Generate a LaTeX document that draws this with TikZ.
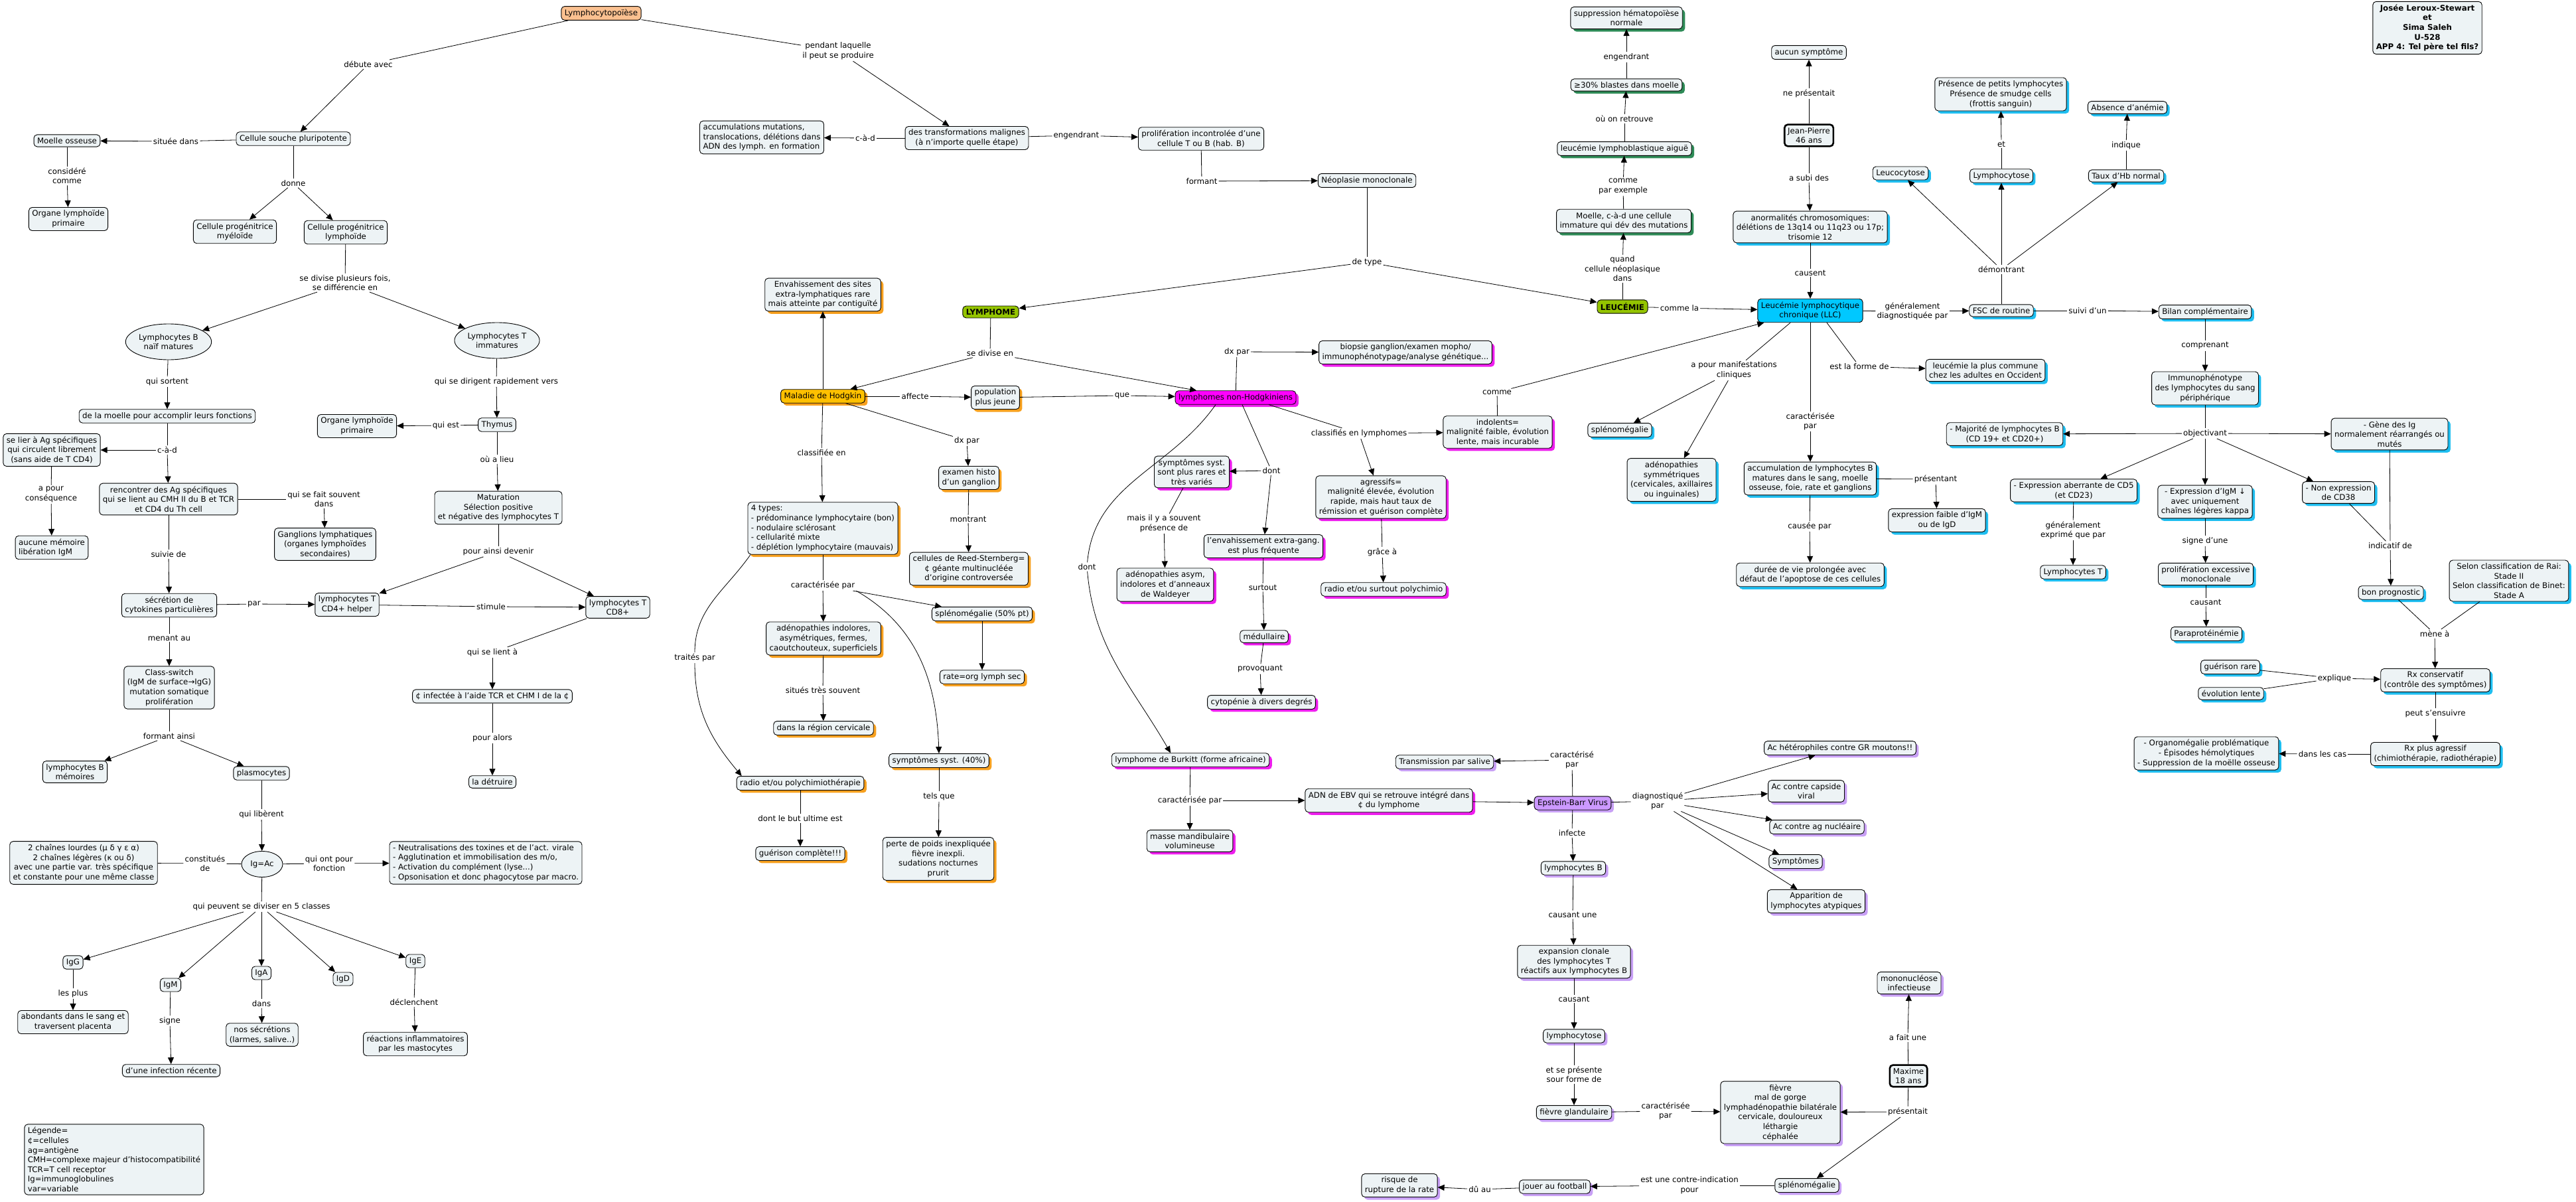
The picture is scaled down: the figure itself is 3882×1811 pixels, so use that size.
\documentclass[tikz,border=0pt]{standalone}
\usepackage{fontspec}
\setmainfont{DejaVu Sans}
\usetikzlibrary{shapes,arrows.meta,positioning,shadows}

\definecolor{conceptfill}{RGB}{237,243,245}
\definecolor{startfill}{RGB}{250,192,144}
\definecolor{typefill}{RGB}{148,196,0}
\definecolor{hodgfill}{RGB}{255,192,0}
\definecolor{nhlfill}{RGB}{255,0,255}
\definecolor{llcfill}{RGB}{0,200,255}
\definecolor{ebvfill}{RGB}{204,153,255}
\definecolor{hodgshadow}{RGB}{247,160,30}
\definecolor{nhlshadow}{RGB}{238,30,238}
\definecolor{llcshadow}{RGB}{30,190,240}
\definecolor{llashadow}{RGB}{46,139,87}
\definecolor{ebvshadow}{RGB}{200,160,245}

\begin{document}
\begin{tikzpicture}[
    x=1pt, y=-1pt,
    every node/.style={font=\fontsize{11.8}{14.6}\selectfont},
    concept/.style={rectangle, draw, rounded corners=5pt, fill=conceptfill,
                    align=center, inner xsep=5pt, inner ysep=4.5pt, line width=0.9pt},
    bubble/.style={ellipse, draw, fill=conceptfill, align=center,
                   inner sep=1pt, line width=0.9pt},
    linkword/.style={align=center, inner sep=2pt, fill=white},
    hodg/.style={concept, drop shadow={shadow xshift=4pt, shadow yshift=-4pt, fill=hodgshadow, opacity=1}},
    nhl/.style={concept, drop shadow={shadow xshift=4pt, shadow yshift=-4pt, fill=nhlshadow, opacity=1}},
    llc/.style={concept, drop shadow={shadow xshift=4pt, shadow yshift=-4pt, fill=llcshadow, opacity=1}},
    lla/.style={concept, drop shadow={shadow xshift=4pt, shadow yshift=-4pt, fill=llashadow, opacity=1}},
    ebv/.style={concept, drop shadow={shadow xshift=4pt, shadow yshift=-4pt, fill=ebvshadow, opacity=1}},
    patient/.style={concept, line width=2.6pt},
    conn/.style={line width=0.8pt},
    arrow/.style={-{Triangle[length=10pt,width=9pt]}, line width=0.8pt}
]
\path[use as bounding box, fill=white] (0,0) rectangle (3882,1811);

% Lymphocytopoiese
\node[concept, fill=startfill] (lcp) at (906,20) {Lymphocytopoïèse};
\node[linkword] (ldebute) at (555,97) {débute avec};
\node[concept] (csp) at (442,209) {Cellule souche pluripotente};
\node[linkword] (lsituee) at (265,213) {située dans};
\node[concept] (moelle) at (101,212) {Moelle osseuse};
\node[linkword] (lconsid) at (101,265) {considéré\\comme};
\node[concept] (olpa) at (103,330) {Organe lymphoïde\\primaire};
\node[linkword] (ldonne) at (442,276) {donne};
\node[concept] (myelo) at (354,349) {Cellule progénitrice\\myéloïde};
\node[concept] (lympho) at (521,350) {Cellule progénitrice\\lymphoïde};
\node[linkword] (ldivise) at (520,426) {se divise plusieurs fois,\\se différencie en};
\node[bubble, minimum width=110pt, minimum height=54pt] (lbn) at (254,515) {Lymphocytes B\\naïf matures};
\node[bubble, minimum width=110pt, minimum height=54pt] (lti) at (749,513) {Lymphocytes T\\immatures};

% Lymphocytes B
\node[linkword] (lsortent) at (252,575) {qui sortent};
\node[concept] (moelf) at (252,627) {de la moelle pour accomplir leurs fonctions};
\node[linkword] (lcada) at (252,678) {c-à-d};
\node[concept] (lier) at (78,678) {se lier à Ag spécifiques\\qui circulent librement\\(sans aide de T CD4)};
\node[linkword] (lapour) at (77,745) {a pour\\conséquence};
\node[concept, align=left] (aucune) at (78,825) {aucune mémoire\\libération IgM};
\node[concept] (renc) at (254,752) {rencontrer des Ag spécifiques\\qui se lient au CMH II du B et TCR\\et CD4 du Th cell};
\node[linkword] (lfait) at (488,752) {qui se fait souvent\\dans};
\node[concept] (gangl) at (490,820) {Ganglions lymphatiques\\(organes lymphoïdes\\secondaires)};
\node[linkword] (lsuivie) at (254,835) {suivie de};
\node[concept] (secr) at (255,912) {sécrétion de\\cytokines particulières};
\node[linkword] (lpar) at (383,910) {par};
\node[concept] (cdq) at (523,911) {lymphocytes T\\CD4+ helper};
\node[linkword] (lstimule) at (740,914) {stimule};
\node[concept] (cdh) at (931,915) {lymphocytes T\\CD8+};
\node[linkword] (lmenant) at (255,961) {menant au};
\node[concept] (cswitch) at (255,1036) {Class-switch\\(IgM de surface→IgG)\\mutation somatique\\prolifération};
\node[linkword] (lformant) at (255,1109) {formant ainsi};
\node[concept] (lbmem) at (113,1163) {lymphocytes B\\mémoires};
\node[concept] (plasmo) at (394,1165) {plasmocytes};

% Lymphocytes T
\node[linkword] (ldirigent) at (748,575) {qui se dirigent rapidement vers};
\node[concept] (thym) at (749,640) {Thymus};
\node[linkword] (lquiest) at (672,641) {qui est};
\node[concept] (olpb) at (538,642) {Organe lymphoïde\\primaire};
\node[linkword] (loulieu) at (749,692) {où a lieu};
\node[concept] (matur) at (751,765) {Maturation\\Sélection positive\\et négative des lymphocytes T};
\node[linkword] (ldevenir) at (751,831) {pour ainsi devenir};
\node[linkword] (llient) at (742,983) {qui se lient à};
\node[concept] (infec) at (742,1049) {¢ infectée à l'aide TCR et CHM I de la ¢};
\node[linkword] (lalors) at (742,1112) {pour alors};
\node[concept] (detr) at (742,1178) {la détruire};

% Immunoglobulines
\node[linkword] (lliberent) at (394,1227) {qui libèrent};
\node[bubble, minimum width=62pt, minimum height=39pt] (igac) at (395,1302) {Ig=Ac};
\node[linkword] (lconst) at (309,1301) {constitués\\de};
\node[concept] (chaines) at (126,1300) {2 chaînes lourdes (μ δ γ ε α)\\2 chaînes légères (κ ou δ)\\avec une partie var. très spécifique\\et constante pour une même classe};
\node[linkword] (lfonct) at (496,1301) {qui ont pour\\fonction};
\node[concept, align=left] (fonct) at (732,1300) {- Neutralisations des toxines et de l'act. virale\\- Agglutination et immobilisation des m/o,\\- Activation du complément (lyse...)\\- Opsonisation et donc phagocytose par macro.};
\node[linkword] (lclasses) at (394,1366) {qui peuvent se diviser en 5 classes};
\node[concept] (igg) at (110,1450) {IgG};
\node[concept] (igm) at (257,1484) {IgM};
\node[concept] (iga) at (394,1466) {IgA};
\node[concept] (igd) at (517,1475) {IgD};
\node[concept] (ige) at (626,1448) {IgE};
\node[linkword] (lplus) at (110,1497) {les plus};
\node[concept] (abond) at (110,1540) {abondants dans le sang et\\traversent placenta};
\node[linkword] (lsigne) at (256,1538) {signe};
\node[concept] (infrec) at (258,1613) {d'une infection récente};
\node[linkword] (ldans) at (394,1512) {dans};
\node[concept] (secret) at (395,1559) {nos sécrétions\\(larmes, salive..)};
\node[linkword] (ldecl) at (624,1510) {déclenchent};
\node[concept] (reac) at (626,1573) {réactions inflammatoires\\par les mastocytes};
\node[concept, align=left] (legende) at (172,1747) {Légende=\\¢=cellules\\ag=antigène\\CMH=complexe majeur d'histocompatibilité\\TCR=T cell receptor\\Ig=immunoglobulines\\var=variable};

% Transformations malignes
\node[linkword] (lpendant) at (1263,77) {pendant laquelle\\il peut se produire};
\node[concept] (transf) at (1457,208) {des transformations malignes\\(à n'importe quelle étape)};
\node[linkword] (lcadb) at (1304,208) {c-à-d};
\node[concept, align=left] (accum) at (1148,207) {accumulations mutations,\\translocations, délétions dans\\ADN des lymph. en formation};
\node[linkword] (lengendra) at (1622,204) {engendrant};
\node[concept] (prolif) at (1810,209) {prolifération incontrolée d'une\\cellule T ou B (hab. B)};
\node[linkword] (lformantb) at (1811,273) {formant};
\node[concept] (neopl) at (2060,272) {Néoplasie monoclonale};
\node[linkword] (ldetype) at (2060,395) {de type};
\node[concept, fill=typefill, font=\fontsize{11.8}{14.6}\selectfont\bfseries] (lymphome) at (1493,470) {LYMPHOME};
\node[concept, fill=typefill, font=\fontsize{11.8}{14.6}\selectfont\bfseries] (leucemie) at (2445,462) {LEUCÉMIE};

% Maladie de Hodgkin
\node[linkword] (ldivb) at (1492,532) {se divise en};
\node[hodg, fill=hodgfill] (hodgkin) at (1240,597) {Maladie de Hodgkin};
\node[hodg] (envah) at (1240,444) {Envahissement des sites\\extra-lymphatiques rare\\mais atteinte par contiguïté};
\node[linkword] (laffecte) at (1379,597) {affecte};
\node[hodg] (popul) at (1500,599) {population\\plus jeune};
\node[linkword] (lque) at (1691,596) {que};
\node[linkword] (ldxa) at (1457,664) {dx par};
\node[hodg] (histo) at (1460,720) {examen histo\\d'un ganglion};
\node[linkword] (lmontrant) at (1459,782) {montrant};
\node[hodg] (reed) at (1460,857) {cellules de Reed-Sternberg=\\¢ géante multinucléée\\d'origine controversée};
\node[linkword] (lclassif) at (1238,682) {classifiée en};
\node[hodg, align=left] (types) at (1240,796) {4 types:\\- prédominance lymphocytaire (bon)\\- nodulaire sclérosant\\- cellularité mixte\\- déplétion lymphocytaire (mauvais)};
\node[linkword] (lcarh) at (1240,882) {caractérisée par};
\node[hodg] (adenoh) at (1241,962) {adénopathies indolores,\\asymétriques, fermes,\\caoutchouteux, superficiels};
\node[hodg] (splenoh) at (1480,925) {splénomégalie (50\% pt)};
\node[linkword] (lsitues) at (1240,1040) {situés très souvent};
\node[hodg] (cervic) at (1241,1097) {dans la région cervicale};
\node[hodg] (rate) at (1480,1020) {rate=org lymph sec};
\node[hodg] (symph) at (1415,1146) {symptômes syst. (40\%)};
\node[linkword] (ltels) at (1415,1200) {tels que};
\node[hodg] (perte) at (1414,1294) {perte de poids inexpliquée\\fièvre inexpli.\\sudations nocturnes\\prurit};
\node[linkword] (ltraites) at (1047,991) {traités par};
\node[hodg] (radioh) at (1206,1180) {radio et/ou polychimiothérapie};
\node[linkword] (lbut) at (1206,1233) {dont le but ultime est};
\node[hodg] (guer) at (1206,1286) {guérison complète!!!};

% Lymphomes non-Hodgkiniens
\node[nhl, fill=nhlfill] (nhlnode) at (1862,599) {lymphomes non-Hodgkiniens};
\node[linkword] (ldxb) at (1864,530) {dx par};
\node[nhl] (biopsie) at (2118,531) {biopsie ganglion/examen mopho/\\immunophénotypage/analyse génétique...};
\node[linkword] (ldonta) at (1916,709) {dont};
\node[nhl] (sympn) at (1796,711) {symptômes syst.\\sont plus rares et\\très variés};
\node[linkword] (lmais) at (1754,789) {mais il y a souvent\\présence de};
\node[nhl] (adenon) at (1756,881) {adénopathies asym,\\indolores et d'anneaux\\de Waldeyer};
\node[nhl] (envn) at (1904,823) {l'envahissement extra-gang.\\est plus fréquente};
\node[linkword] (lsurtout) at (1903,885) {surtout};
\node[nhl] (medul) at (1905,959) {médullaire};
\node[linkword] (lprovoq) at (1899,1008) {provoquant};
\node[nhl] (cyto) at (1901,1058) {cytopénie à divers degrés};
\node[linkword] (ldontb) at (1638,854) {dont};
\node[nhl] (burk) at (1794,1145) {lymphome de Burkitt (forme africaine)};
\node[linkword] (lcarb) at (1793,1206) {caractérisée par};
\node[nhl] (masse) at (1793,1267) {masse mandibulaire\\volumineuse};
\node[nhl] (adn) at (2093,1206) {ADN de EBV qui se retrouve intégré dans\\¢ du lymphome};
\node[linkword] (lclassn) at (2048,653) {classifiés en lymphomes};
\node[nhl] (indol) at (2257,651) {indolents=\\malignité faible, évolution\\lente, mais incurable};
\node[nhl] (agress) at (2081,749) {agressifs=\\malignité élevée, évolution\\rapide, mais haut taux de\\rémission et guérison complète};
\node[linkword] (lgrace) at (2083,832) {grâce à};
\node[nhl] (radion) at (2085,888) {radio et/ou surtout polychimio};
\node[linkword] (lcomme) at (2256,591) {comme};

% Epstein-Barr Virus
\node[ebv, fill=ebvfill] (ebvnode) at (2370,1210) {Epstein-Barr Virus};
\node[linkword] (lcare) at (2369,1145) {caractérisé\\par};
\node[ebv] (salive) at (2177,1148) {Transmission par salive};
\node[linkword] (ldiag) at (2498,1207) {diagnostiqué\\par};
\node[ebv] (achet) at (2773,1127) {Ac hétérophiles contre GR moutons!!};
\node[ebv] (accap) at (2722,1192) {Ac contre capside\\viral};
\node[ebv] (acnuc) at (2738,1246) {Ac contre ag nucléaire};
\node[ebv] (sympe) at (2706,1298) {Symptômes};
\node[ebv] (atyp) at (2737,1358) {Apparition de\\lymphocytes atypiques};
\node[linkword] (linfecte) at (2369,1255) {infecte};
\node[ebv] (lbe) at (2371,1308) {lymphocytes B};
\node[linkword] (lcausune) at (2370,1378) {causant une};
\node[ebv] (expan) at (2372,1449) {expansion clonale\\des lymphocytes T\\réactifs aux lymphocytes B};
\node[linkword] (lcausa) at (2372,1505) {causant};
\node[ebv] (lcye) at (2372,1561) {lymphocytose};
\node[linkword] (lpresente) at (2372,1619) {et se présente\\sour forme de};
\node[ebv] (fievreg) at (2372,1676) {fièvre glandulaire};
\node[linkword] (lcarf) at (2510,1674) {caractérisée\\par};
\node[ebv] (fievre) at (2683,1676) {fièvre\\mal de gorge\\lymphadénopathie bilatérale\\cervicale, douloureux\\léthargie\\céphalée};
\node[patient] (maxime) at (2876,1621) {Maxime\\18 ans};
\node[linkword] (lfaitune) at (2875,1563) {a fait une};
\node[ebv] (mono) at (2877,1481) {mononucléose\\infectieuse};
\node[linkword] (lpresm) at (2875,1675) {présentait};
\node[ebv] (splenoe) at (2723,1786) {splénomégalie};
\node[linkword] (lcontre) at (2546,1786) {est une contre-indication\\pour};
\node[ebv] (foot) at (2343,1788) {jouer au football};
\node[linkword] (ldu) at (2230,1792) {dû au};
\node[ebv] (rupt) at (2109,1786) {risque de\\rupture de la rate};

% Leucemie lymphoblastique aigue
\node[lla] (suppr) at (2451,27) {suppression hématopoïèse\\normale};
\node[linkword] (lengendrb) at (2451,86) {engendrant};
\node[lla] (blast) at (2451,128) {≥30\% blastes dans moelle};
\node[linkword] (lretrouve) at (2448,179) {où on retrouve};
\node[lla] (lla) at (2448,224) {leucémie lymphoblastique aiguë};
\node[linkword] (lexemple) at (2446,281) {comme\\par exemple};
\node[lla] (moellel) at (2447,333) {Moelle, c-à-d une cellule\\immature qui dév des mutations};
\node[linkword] (lquand) at (2445,405) {quand\\cellule néoplasique\\dans};
\node[linkword] (lcommela) at (2531,464) {comme la};

% Leucemie lymphocytique chronique
\node[concept, fill=llcfill] (llcnode) at (2728,468) {Leucémie lymphocytique\\chronique (LLC)};
\node[concept] (aucun) at (2726,79) {aucun symptôme};
\node[linkword] (lneprés) at (2726,141) {ne présentait};
\node[patient] (jp) at (2726,204) {Jean-Pierre\\46 ans};
\node[linkword] (lsubi) at (2726,268) {a subi des};
\node[llc] (anorm) at (2728,342) {anormalités chromosomiques:\\délétions de 13q14 ou 11q23 ou 17p;\\trisomie 12};
\node[linkword] (lcausent) at (2728,411) {causent};
\node[linkword] (lgendiag) at (2882,469) {généralement\\diagnostiquée par};
\node[linkword] (lmanif) at (2613,558) {a pour manifestations\\cliniques};
\node[llc] (splenol) at (2441,648) {splénomégalie};
\node[llc] (adenol) at (2519,723) {adénopathies\\symmétriques\\(cervicales, axillaires\\ou inguinales)};
\node[linkword] (lforme) at (2802,552) {est la forme de};
\node[llc] (commune) at (2992,558) {leucémie la plus commune\\chez les adultes en Occident};
\node[linkword] (lcarl) at (2728,635) {caractérisée\\par};
\node[llc] (accuml) at (2728,721) {accumulation de lymphocytes B\\matures dans le sang, moelle\\osseuse, foie, rate et ganglions};
\node[linkword] (lpresentant) at (2917,722) {présentant};
\node[llc] (exprf) at (2919,784) {expression faible d'IgM\\ou de IgD};
\node[linkword] (lcausee) at (2727,793) {causée par};
\node[llc] (duree) at (2728,866) {durée de vie prolongée avec\\défaut de l'apoptose de ces cellules};

% FSC et bilan
\node[concept, font=\fontsize{11.8}{14.6}\selectfont\bfseries] (auteurs) at (3658,42) {Josée Leroux-Stewart\\et\\Sima Saleh\\U-528\\APP 4: Tel père tel fils?};
\node[llc] (fsc) at (3016,468) {FSC de routine};
\node[linkword] (ldemontr) at (3016,406) {démontrant};
\node[llc] (leucocyt) at (2864,261) {Leucocytose};
\node[llc] (lymphol) at (3016,265) {Lymphocytose};
\node[linkword] (let) at (3016,217) {et};
\node[llc] (presence) at (3015,142) {Présence de petits lymphocytes\\Présence de smudge cells\\(frottis sanguin)};
\node[llc] (hb) at (3204,265) {Taux d'Hb normal};
\node[linkword] (lindique) at (3204,219) {indique};
\node[llc] (absence) at (3206,162) {Absence d'anémie};
\node[linkword] (lsuivi) at (3146,468) {suivi d'un};
\node[llc] (bilan) at (3323,470) {Bilan complémentaire};
\node[linkword] (lcomprenant) at (3323,521) {comprenant};
\node[llc] (immuno) at (3323,585) {Immunophénotype\\des lymphocytes du sang\\périphérique};
\node[linkword] (lobject) at (3323,653) {objectivant};
\node[llc] (majorite) at (3021,654) {- Majorité de lymphocytes B\\(CD 19+ et CD20+)};
\node[llc] (gene) at (3601,654) {- Gène des Ig\\normalement réarrangés ou\\mutés};
\node[llc] (cdcinq) at (3125,739) {- Expression aberrante de CD5\\(et CD23)};
\node[llc] (igmbas) at (3323,756) {- Expression d'IgM ↓\\avec uniquement\\chaînes légères kappa};
\node[llc] (cdtrente) at (3524,742) {- Non expression\\de CD38};
\node[linkword] (lexprime) at (3124,799) {généralement\\exprimé que par};
\node[llc] (lyt) at (3124,862) {Lymphocytes T};
\node[linkword] (lsigned) at (3323,815) {signe d'une};
\node[llc] (prolexc) at (3324,865) {prolifération excessive\\monoclonale};
\node[linkword] (lcausb) at (3324,907) {causant};
\node[llc] (parapr) at (3325,955) {Paraprotéinémie};
\node[linkword] (lindicatif) at (3602,822) {indicatif de};
\node[llc] (bonprog) at (3603,893) {bon prognostic};
\node[llc] (rai) at (3781,875) {Selon classification de Rai:\\Stade II\\Selon classification de Binet:\\Stade A};
\node[linkword] (lmene) at (3669,955) {mène à};
\node[llc] (rxcons) at (3670,1025) {Rx conservatif\\(contrôle des symptômes)};
\node[llc] (guerrare) at (3361,1005) {guérison rare};
\node[llc] (evolent) at (3362,1045) {évolution lente};
\node[linkword] (lexplique) at (3518,1022) {explique};
\node[linkword] (lensuivre) at (3670,1075) {peut s'ensuivre};
\node[llc] (rxagr) at (3670,1136) {Rx plus agressif\\(chimiothérapie, radiothérapie)};
\node[linkword] (lcas) at (3500,1136) {dans les cas};
\node[llc] (organo) at (3325,1135) {- Organomégalie problématique\\- Épisodes hémolytiques\\- Suppression de la moëlle osseuse};

% Connections: lymphocytopoiese
\draw[conn] (lcp) -- (ldebute);
\draw[arrow] (ldebute) -- (csp);
\draw[conn] (csp) -- (lsituee);
\draw[arrow] (lsituee) -- (moelle);
\draw[conn] (moelle) -- (lconsid);
\draw[arrow] (lconsid) -- (olpa);
\draw[conn] (csp) -- (ldonne);
\path (ldonne) edge[arrow] (myelo) edge[arrow] (lympho);
\draw[conn] (lympho) -- (ldivise);
\path (ldivise) edge[arrow] (lbn) edge[arrow] (lti);
\draw[conn] (lbn) -- (lsortent);
\draw[arrow] (lsortent) -- (moelf);
\draw[conn] (moelf) -- (lcada);
\path (lcada) edge[arrow] (lier) edge[arrow] (renc);
\draw[conn] (lier) -- (lapour);
\draw[arrow] (lapour) -- (aucune);
\draw[conn] (renc) -- (lfait);
\draw[arrow] (lfait) -- (gangl);
\draw[conn] (renc) -- (lsuivie);
\draw[arrow] (lsuivie) -- (secr);
\draw[conn] (secr) -- (lpar);
\draw[arrow] (lpar) -- (cdq);
\draw[conn] (cdq) -- (lstimule);
\draw[arrow] (lstimule) -- (cdh);
\draw[conn] (secr) -- (lmenant);
\draw[arrow] (lmenant) -- (cswitch);
\draw[conn] (cswitch) -- (lformant);
\path (lformant) edge[arrow] (lbmem) edge[arrow] (plasmo);
\draw[conn] (lti) -- (ldirigent);
\draw[arrow] (ldirigent) -- (thym);
\draw[conn] (thym) -- (lquiest);
\draw[arrow] (lquiest) -- (olpb);
\draw[conn] (thym) -- (loulieu);
\draw[arrow] (loulieu) -- (matur);
\draw[conn] (matur) -- (ldevenir);
\path (ldevenir) edge[arrow] (cdq) edge[arrow] (cdh);
\draw[conn] (cdh) -- (llient);
\draw[arrow] (llient) -- (infec);
\draw[conn] (infec) -- (lalors);
\draw[arrow] (lalors) -- (detr);
\draw[conn] (plasmo) -- (lliberent);
\draw[arrow] (lliberent) -- (igac);
\draw[conn] (igac) -- (lconst) -- (chaines);
\draw[conn] (igac) -- (lfonct);
\draw[arrow] (lfonct) -- (fonct);
\draw[conn] (igac) -- (lclasses);
\path (lclasses) edge[arrow] (igg) edge[arrow] (igm) edge[arrow] (iga)
                 edge[arrow] (igd) edge[arrow] (ige);
\draw[conn] (igg) -- (lplus);
\draw[arrow] (lplus) -- (abond);
\draw[conn] (igm) -- (lsigne);
\draw[arrow] (lsigne) -- (infrec);
\draw[conn] (iga) -- (ldans);
\draw[arrow] (ldans) -- (secret);
\draw[conn] (ige) -- (ldecl);
\draw[arrow] (ldecl) -- (reac);

% Connections: transformations
\draw[conn] (lcp) -- (lpendant);
\draw[arrow] (lpendant) -- (transf);
\draw[conn] (transf) -- (lcadb);
\draw[arrow] (lcadb) -- (accum);
\draw[conn] (transf) -- (lengendra);
\draw[arrow] (lengendra) -- (prolif);
\draw[conn] (prolif) -- (lformantb);
\draw[arrow] (lformantb) -- (neopl);
\draw[conn] (neopl) -- (ldetype);
\path (ldetype) edge[arrow] (lymphome) edge[arrow] (leucemie);

% Connections: Hodgkin
\draw[conn] (lymphome) -- (ldivb);
\path (ldivb) edge[arrow] (hodgkin) edge[arrow] (nhlnode);
\draw[arrow] (hodgkin) -- (envah);
\draw[conn] (hodgkin) -- (laffecte);
\draw[arrow] (laffecte) -- (popul);
\draw[conn] (popul) -- (lque);
\draw[arrow] (lque) -- (nhlnode);
\draw[conn] (hodgkin) -- (ldxa);
\draw[arrow] (ldxa) -- (histo);
\draw[conn] (histo) -- (lmontrant);
\draw[arrow] (lmontrant) -- (reed);
\draw[conn] (hodgkin) -- (lclassif);
\draw[arrow] (lclassif) -- (types);
\draw[conn] (types) -- (lcarh);
\path (lcarh) edge[arrow] (adenoh) edge[arrow] (splenoh);
\draw[arrow] (lcarh.south east) to[out=-30, in=92] (symph.north);
\draw[conn] (adenoh) -- (lsitues);
\draw[arrow] (lsitues) -- (cervic);
\draw[arrow] (splenoh) -- (rate);
\draw[conn] (symph) -- (ltels);
\draw[arrow] (ltels) -- (perte);
\draw[conn] (types.200) to[out=235, in=90] (ltraites);
\draw[arrow] (ltraites) to[out=-90, in=130] ([xshift=8pt]radioh.north west);
\draw[conn] (radioh) -- (lbut);
\draw[arrow] (lbut) -- (guer);

% Connections: non-Hodgkin
\draw[conn] (nhlnode) -- (ldxb);
\draw[arrow] (ldxb) -- (biopsie);
\draw[conn] ([xshift=10pt]nhlnode.south) -- (ldonta);
\path (ldonta) edge[arrow] (sympn) edge[arrow] (envn);
\draw[conn] (sympn) -- (lmais);
\draw[arrow] (lmais) -- (adenon);
\draw[conn] (envn) -- (lsurtout);
\draw[arrow] (lsurtout) -- (medul);
\draw[conn] (medul) -- (lprovoq);
\draw[arrow] (lprovoq) -- (cyto);
\draw[conn] ([xshift=-30pt]nhlnode.south) to[out=235, in=85] (ldontb);
\draw[arrow] (ldontb) to[out=-85, in=120] ([xshift=-30pt]burk.north);
\draw[conn] (burk) -- (lcarb);
\path (lcarb) edge[arrow] (masse) edge[arrow] (adn);
\draw[arrow] (adn) -- (ebvnode);
\draw[conn] ([xshift=50pt]nhlnode.south) -- (lclassn);
\path (lclassn) edge[arrow] (indol) edge[arrow] (agress);
\draw[conn] (agress) -- (lgrace);
\draw[arrow] (lgrace) -- (radion);
\draw[conn] (indol) -- (lcomme);
\draw[arrow] (lcomme) -- (llcnode);

% Connections: EBV
\draw[conn] (ebvnode) -- (lcare);
\draw[arrow] (lcare) -- (salive);
\draw[conn] (ebvnode) -- (ldiag);
\path (ldiag) edge[arrow] (achet) edge[arrow] (accap) edge[arrow] (acnuc)
              edge[arrow] (sympe) edge[arrow] (atyp);
\draw[conn] (ebvnode) -- (linfecte);
\draw[arrow] (linfecte) -- (lbe);
\draw[conn] (lbe) -- (lcausune);
\draw[arrow] (lcausune) -- (expan);
\draw[conn] (expan) -- (lcausa);
\draw[arrow] (lcausa) -- (lcye);
\draw[conn] (lcye) -- (lpresente);
\draw[arrow] (lpresente) -- (fievreg);
\draw[conn] (fievreg) -- (lcarf);
\draw[arrow] (lcarf) -- (fievre);
\draw[conn] (maxime) -- (lfaitune);
\draw[arrow] (lfaitune) -- (mono);
\draw[conn] (maxime) -- (lpresm);
\path (lpresm) edge[arrow] (fievre) edge[arrow] (splenoe);
\draw[conn] (splenoe) -- (lcontre);
\draw[arrow] (lcontre) -- (foot);
\draw[conn] (foot) -- (ldu);
\draw[arrow] (ldu) -- (rupt);

% Connections: leucemies
\draw[conn] (leucemie) -- (lquand);
\draw[arrow] (lquand) -- (moellel);
\draw[conn] (moellel) -- (lexemple);
\draw[arrow] (lexemple) -- (lla);
\draw[conn] (lla) -- (lretrouve);
\draw[arrow] (lretrouve) -- (blast);
\draw[conn] (blast) -- (lengendrb);
\draw[arrow] (lengendrb) -- (suppr);
\draw[conn] (leucemie) -- (lcommela);
\draw[arrow] (lcommela) -- (llcnode);
\draw[conn] (jp) -- (lneprés);
\draw[arrow] (lneprés) -- (aucun);
\draw[conn] (jp) -- (lsubi);
\draw[arrow] (lsubi) -- (anorm);
\draw[conn] (anorm) -- (lcausent);
\draw[arrow] (lcausent) -- (llcnode);
\draw[conn] (llcnode) -- (lgendiag);
\draw[arrow] (lgendiag) -- (fsc);
\draw[conn] ([xshift=-30pt]llcnode.south) -- (lmanif);
\path (lmanif) edge[arrow] (splenol) edge[arrow] (adenol);
\draw[conn] ([xshift=25pt]llcnode.south) -- (lforme);
\draw[arrow] (lforme) -- (commune);
\draw[conn] (llcnode) -- (lcarl);
\draw[arrow] (lcarl) -- (accuml);
\draw[conn] (accuml) -- (lpresentant);
\draw[arrow] (lpresentant) -- (exprf);
\draw[conn] (accuml) -- (lcausee);
\draw[arrow] (lcausee) -- (duree);

% Connections: FSC et bilan
\draw[conn] (fsc) -- (ldemontr);
\path (ldemontr) edge[arrow] (leucocyt) edge[arrow] (lymphol) edge[arrow] (hb);
\draw[conn] (lymphol) -- (let);
\draw[arrow] (let) -- (presence);
\draw[conn] (hb) -- (lindique);
\draw[arrow] (lindique) -- (absence);
\draw[conn] (fsc) -- (lsuivi);
\draw[arrow] (lsuivi) -- (bilan);
\draw[conn] (bilan) -- (lcomprenant);
\draw[arrow] (lcomprenant) -- (immuno);
\draw[conn] (immuno) -- (lobject);
\path (lobject) edge[arrow] (majorite) edge[arrow] (gene) edge[arrow] (cdcinq)
                edge[arrow] (igmbas) edge[arrow] (cdtrente);
\draw[conn] (cdcinq) -- (lexprime);
\draw[arrow] (lexprime) -- (lyt);
\draw[conn] (igmbas) -- (lsigned);
\draw[arrow] (lsigned) -- (prolexc);
\draw[conn] (prolexc) -- (lcausb);
\draw[arrow] (lcausb) -- (parapr);
\draw[conn] (cdtrente) -- (lindicatif);
\draw[conn] (gene) -- (lindicatif);
\draw[arrow] (lindicatif) -- (bonprog);
\draw[conn] (bonprog) -- (lmene);
\draw[conn] (rai) -- (lmene);
\draw[arrow] (lmene) -- (rxcons);
\draw[conn] (guerrare) -- (lexplique);
\draw[conn] (evolent) -- (lexplique);
\draw[arrow] (lexplique) -- (rxcons);
\draw[conn] (rxcons) -- (lensuivre);
\draw[arrow] (lensuivre) -- (rxagr);
\draw[conn] (rxagr) -- (lcas);
\draw[arrow] (lcas) -- (organo);

\end{tikzpicture}
\end{document}
